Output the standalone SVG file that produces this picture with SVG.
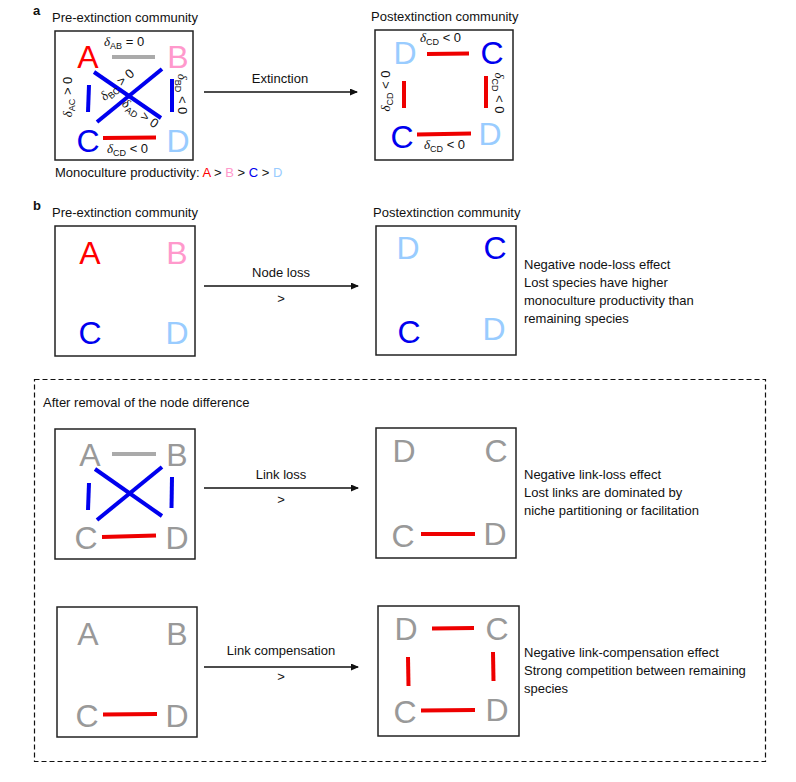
<svg xmlns="http://www.w3.org/2000/svg" width="796" height="782" viewBox="0 0 796 782">
<defs>
<style>
text{font-family:"Liberation Sans",Arial,sans-serif;fill:#111}
.s{font-size:13px}
.h{font-size:13px;font-weight:bold}
.mid{text-anchor:middle}
.big{font-size:32px;text-anchor:middle}
.d{font-family:"Liberation Serif","Times New Roman",serif;font-style:italic}
.sub{font-size:9px}
.box{fill:none;stroke:#222;stroke-width:1.5}
.dash{fill:none;stroke:#111;stroke-width:1.2;stroke-dasharray:5 3}
.arr{stroke:#111;stroke-width:1.3;fill:none;marker-end:url(#ah)}
.ln{stroke-width:4;stroke-linecap:butt;fill:none}
.r{fill:#ff0000}.p{fill:#ff99cc}.b{fill:#0000ee}.lb{fill:#99ccff}.g{fill:#999999}
.lr{stroke:#ee0000}.lg{stroke:#aaaaaa}.lbl{stroke:#0000ee}
</style>
<marker id="ah" viewBox="0 0 8 7" refX="7" refY="3.5" markerWidth="8" markerHeight="7" markerUnits="userSpaceOnUse" orient="auto">
<path d="M0,0 L8,3.5 L0,7 z" fill="#111"/>
</marker>
</defs>
<rect width="796" height="782" fill="#fff"/>

<!-- Panel labels and titles -->
<text class="h" x="33" y="15">a</text>
<text class="s" x="52" y="22">Pre-extinction community</text>
<text class="s" x="371" y="21">Postextinction community</text>
<text class="s" x="55" y="177">Monoculture productivity: <tspan class="r">A</tspan> &gt; <tspan class="p">B</tspan> &gt; <tspan class="b">C</tspan> &gt; <tspan class="lb">D</tspan></text>

<text class="h" x="33" y="210">b</text>
<text class="s" x="52" y="217">Pre-extinction community</text>
<text class="s" x="373" y="217">Postextinction community</text>
<text class="s" x="524" y="269">Negative node-loss effect</text>
<text class="s" x="524" y="287">Lost species have higher</text>
<text class="s" x="524" y="305">monoculture productivity than</text>
<text class="s" x="524" y="323">remaining species</text>

<rect class="dash" x="34.5" y="379.5" width="731" height="382"/>
<text class="s" x="43" y="407">After removal of the node difference</text>
<text class="s" x="524" y="479">Negative link-loss effect</text>
<text class="s" x="524" y="497">Lost links are dominated by</text>
<text class="s" x="524" y="515">niche partitioning or facilitation</text>
<text class="s" x="524" y="657">Negative link-compensation effect</text>
<text class="s" x="524" y="675">Strong competition between remaining</text>
<text class="s" x="524" y="693">species</text>

<!-- Boxes -->
<g id="boxes">
<rect class="box" x="55" y="31" width="138" height="129"/>
<rect class="box" x="375" y="30" width="138" height="130"/>
<rect class="box" x="55" y="226" width="140" height="130"/>
<rect class="box" x="376" y="226" width="140" height="129"/>
<rect class="box" x="55" y="429" width="140" height="130"/>
<rect class="box" x="376" y="428" width="140" height="130"/>
<rect class="box" x="57" y="607" width="140" height="130"/>
<rect class="box" x="378" y="606" width="141" height="130"/>
</g>

<!-- Connectors -->
<g id="connectors">
<line class="arr" x1="204" y1="92" x2="357" y2="92"/>
<line class="arr" x1="204" y1="286" x2="358" y2="286"/>
<line class="arr" x1="204" y1="488" x2="358" y2="488"/>
<line class="arr" x1="204" y1="667" x2="358" y2="667"/>
<!-- panel a pre -->
<line class="ln lg" x1="112" y1="57" x2="155" y2="57"/>
<line class="ln lbl" x1="89" y1="85" x2="88" y2="112"/>
<line class="ln lbl" x1="172" y1="79" x2="172" y2="112"/>
<line class="ln lbl" x1="94" y1="72" x2="161" y2="118"/>
<line class="ln lbl" x1="162" y1="69" x2="97" y2="122"/>
<line class="ln lr" x1="103" y1="138" x2="156" y2="137.5"/>
<!-- panel a post -->
<line class="ln lr" x1="427" y1="54" x2="469" y2="53.5"/>
<line class="ln lr" x1="404" y1="81" x2="404" y2="108"/>
<line class="ln lr" x1="486" y1="76" x2="486" y2="108"/>
<line class="ln lr" x1="417" y1="134.5" x2="471" y2="133.5"/>
<!-- link loss pre -->
<line class="ln lg" x1="112" y1="454" x2="156" y2="454"/>
<line class="ln lbl" x1="89" y1="483" x2="88" y2="510"/>
<line class="ln lbl" x1="172" y1="477" x2="171.5" y2="508"/>
<line class="ln lbl" x1="95" y1="469" x2="162" y2="516"/>
<line class="ln lbl" x1="162" y1="467" x2="97" y2="520"/>
<line class="ln lr" x1="102" y1="537" x2="156" y2="535.5"/>
<!-- link loss post -->
<line class="ln lr" x1="421" y1="534" x2="475" y2="534"/>
<!-- link comp pre -->
<line class="ln lr" x1="103" y1="714.5" x2="157" y2="714"/>
<!-- link comp post -->
<line class="ln lr" x1="432" y1="628.5" x2="474" y2="628"/>
<line class="ln lr" x1="408" y1="657" x2="408.5" y2="686"/>
<line class="ln lr" x1="493" y1="652" x2="493.5" y2="681"/>
<line class="ln lr" x1="421" y1="710.5" x2="475" y2="710"/>
</g>

<!-- Arrow labels -->
<text class="s mid" x="280" y="83">Extinction</text>
<text class="s mid" x="281" y="277">Node loss</text>
<text class="s mid" x="281" y="303">&gt;</text>
<text class="s mid" x="281" y="479">Link loss</text>
<text class="s mid" x="281" y="504">&gt;</text>
<text class="s mid" x="281" y="655">Link compensation</text>
<text class="s mid" x="281" y="681">&gt;</text>

<!-- Interaction labels panel a -->
<g id="delta-labels">
<text class="s" x="104" y="46"><tspan class="d">δ</tspan><tspan class="sub" dy="3">AB</tspan><tspan dy="-3"> = 0</tspan></text>
<text class="s" x="107" y="153"><tspan class="d">δ</tspan><tspan class="sub" dy="3">CD</tspan><tspan dy="-3"> &lt; 0</tspan></text>
<text class="s mid" transform="translate(72,97) rotate(-90)" x="0" y="0"><tspan class="d">δ</tspan><tspan class="sub" dy="3">AC</tspan><tspan dy="-3"> &gt; 0</tspan></text>
<text class="s mid" transform="translate(178,94) rotate(90)" x="0" y="0"><tspan class="d">δ</tspan><tspan class="sub" dy="3">BD</tspan><tspan dy="-3"> &lt; 0</tspan></text>
<text class="s mid" transform="translate(120,88) rotate(-41)" x="0" y="0"><tspan class="d">δ</tspan><tspan class="sub" dy="3">BC</tspan><tspan dy="-3"> &gt; 0</tspan></text>
<text class="s mid" transform="translate(138,117) rotate(35)" x="0" y="0"><tspan class="d">δ</tspan><tspan class="sub" dy="3">AD</tspan><tspan dy="-3"> &gt; 0</tspan></text>
<text class="s" x="420" y="42"><tspan class="d">δ</tspan><tspan class="sub" dy="3">CD</tspan><tspan dy="-3"> &lt; 0</tspan></text>
<text class="s" x="424" y="149"><tspan class="d">δ</tspan><tspan class="sub" dy="3">CD</tspan><tspan dy="-3"> &lt; 0</tspan></text>
<text class="s mid" transform="translate(390,91) rotate(-90)" x="0" y="0"><tspan class="d">δ</tspan><tspan class="sub" dy="3">CD</tspan><tspan dy="-3"> &lt; 0</tspan></text>
<text class="s mid" transform="translate(495,93) rotate(90)" x="0" y="0"><tspan class="d">δ</tspan><tspan class="sub" dy="3">CD</tspan><tspan dy="-3"> &lt; 0</tspan></text>
</g>

<!-- Nodes: panel a pre -->
<g id="a-pre-A"><text class="big r" x="88" y="68">A</text></g>
<g id="a-pre-B"><text class="big p" x="178" y="68">B</text></g>
<g id="a-pre-C"><text class="big b" x="88" y="152">C</text></g>
<g id="a-pre-D"><text class="big lb" x="178" y="152">D</text></g>
<!-- panel a post -->
<g id="a-post-D1"><text class="big lb" x="405" y="64">D</text></g>
<g id="a-post-C1"><text class="big b" x="492" y="64">C</text></g>
<g id="a-post-C2"><text class="big b" x="402" y="148">C</text></g>
<g id="a-post-D2"><text class="big lb" x="490" y="145">D</text></g>
<!-- panel b node loss -->
<g id="b-pre-A"><text class="big r" x="90" y="264">A</text></g>
<g id="b-pre-B"><text class="big p" x="177" y="264">B</text></g>
<g id="b-pre-C"><text class="big b" x="90" y="344">C</text></g>
<g id="b-pre-D"><text class="big lb" x="177" y="344">D</text></g>
<g id="b-post-D1"><text class="big lb" x="408" y="259">D</text></g>
<g id="b-post-C1"><text class="big b" x="495" y="259">C</text></g>
<g id="b-post-C2"><text class="big b" x="409" y="343">C</text></g>
<g id="b-post-D2"><text class="big lb" x="494" y="340">D</text></g>
<!-- link loss -->
<g id="ll-pre-A"><text class="big g" x="90" y="466">A</text></g>
<g id="ll-pre-B"><text class="big g" x="177" y="466">B</text></g>
<g id="ll-pre-C"><text class="big g" x="86" y="549">C</text></g>
<g id="ll-pre-D"><text class="big g" x="177" y="549">D</text></g>
<g id="ll-post-D1"><text class="big g" x="404" y="462">D</text></g>
<g id="ll-post-C1"><text class="big g" x="496" y="462">C</text></g>
<g id="ll-post-C2"><text class="big g" x="403" y="547">C</text></g>
<g id="ll-post-D2"><text class="big g" x="495" y="545">D</text></g>
<!-- link compensation -->
<g id="lc-pre-A"><text class="big g" x="88" y="645">A</text></g>
<g id="lc-pre-B"><text class="big g" x="177" y="645">B</text></g>
<g id="lc-pre-C"><text class="big g" x="87" y="727">C</text></g>
<g id="lc-pre-D"><text class="big g" x="177" y="727">D</text></g>
<g id="lc-post-D1"><text class="big g" x="406" y="640">D</text></g>
<g id="lc-post-C1"><text class="big g" x="497" y="640">C</text></g>
<g id="lc-post-C2"><text class="big g" x="405" y="723">C</text></g>
<g id="lc-post-D2"><text class="big g" x="497" y="721">D</text></g>
</svg>
